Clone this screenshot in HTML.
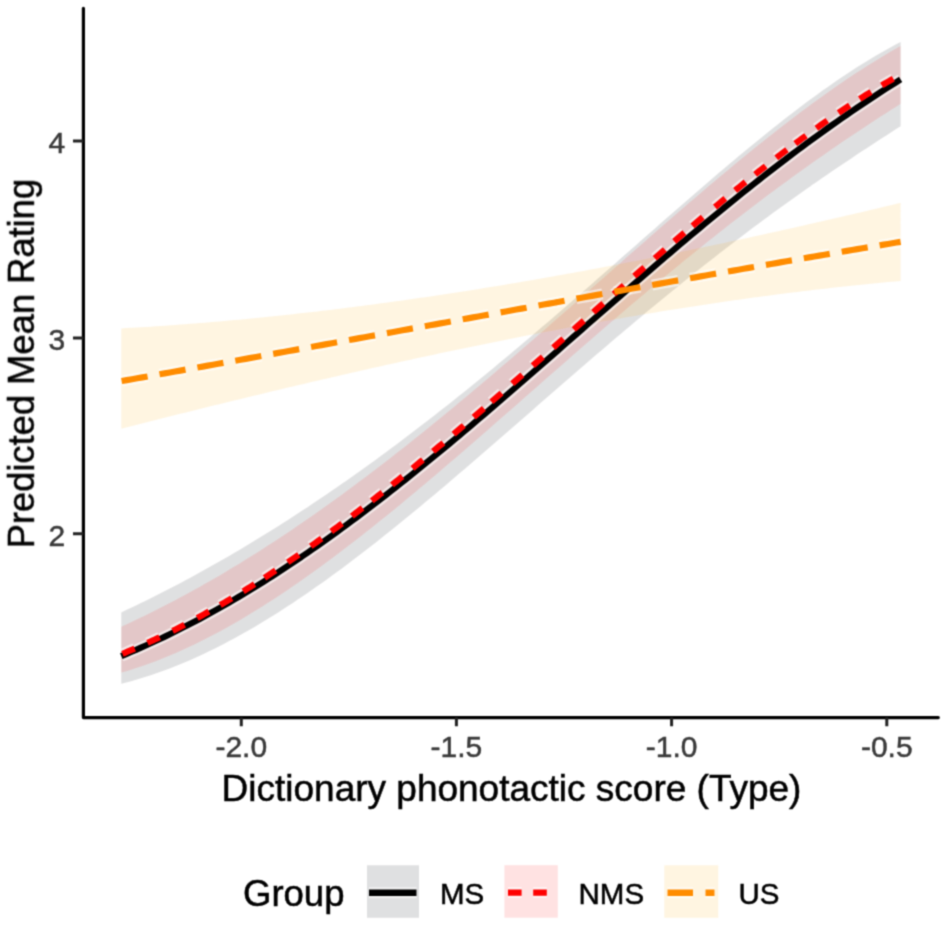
<!DOCTYPE html>
<html><head><meta charset="utf-8">
<style>
html,body{margin:0;padding:0;background:#fff;width:944px;height:926px;overflow:hidden}
svg{display:block}
text{font-family:"Liberation Sans",sans-serif;stroke:#000;stroke-width:0.5px}
.tk text{stroke:#3a3a3a}
</style></head>
<body>
<svg width="944" height="926" viewBox="0 0 944 926">
<defs><filter id="bl" color-interpolation-filters="sRGB" x="0" y="0" width="100%" height="100%" filterUnits="userSpaceOnUse"><feConvolveMatrix order="3" kernelMatrix="0.04 0.12 0.04 0.12 0.36 0.12 0.04 0.12 0.04" edgeMode="none" preserveAlpha="false"/></filter></defs>
<rect width="944" height="926" fill="#fff"/>
<g filter="url(#bl)">
<!-- ribbons -->
<path d="M121.30,612.41 L126.20,610.12 L131.10,607.80 L136.00,605.45 L140.91,603.07 L145.81,600.67 L150.71,598.25 L155.61,595.79 L160.51,593.31 L165.41,590.81 L170.31,588.27 L175.21,585.72 L180.12,583.13 L185.02,580.53 L189.92,577.89 L194.82,575.23 L199.72,572.55 L204.62,569.83 L209.52,567.10 L214.42,564.34 L219.33,561.55 L224.23,558.74 L229.13,555.90 L234.03,553.04 L238.93,550.15 L243.83,547.24 L248.73,544.30 L253.63,541.34 L258.54,538.35 L263.44,535.34 L268.34,532.30 L273.24,529.24 L278.14,526.15 L283.04,523.04 L287.94,519.91 L292.84,516.75 L297.75,513.57 L302.65,510.36 L307.55,507.13 L312.45,503.87 L317.35,500.59 L322.25,497.29 L327.15,493.96 L332.05,490.61 L336.96,487.23 L341.86,483.83 L346.76,480.41 L351.66,476.96 L356.56,473.50 L361.46,470.00 L366.36,466.49 L371.26,462.95 L376.17,459.39 L381.07,455.81 L385.97,452.20 L390.87,448.57 L395.77,444.92 L400.67,441.25 L405.57,437.56 L410.47,433.84 L415.38,430.11 L420.28,426.35 L425.18,422.57 L430.08,418.77 L434.98,414.96 L439.88,411.12 L444.78,407.26 L449.68,403.38 L454.59,399.48 L459.49,395.56 L464.39,391.63 L469.29,387.67 L474.19,383.70 L479.09,379.71 L483.99,375.70 L488.89,371.67 L493.80,367.63 L498.70,363.57 L503.60,359.49 L508.50,355.40 L513.40,351.30 L518.30,347.18 L523.20,343.04 L528.10,338.89 L533.01,334.73 L537.91,330.55 L542.81,326.36 L547.71,322.16 L552.61,317.95 L557.51,313.73 L562.41,309.49 L567.31,305.25 L572.22,301.00 L577.12,296.73 L582.02,292.46 L586.92,288.19 L591.82,283.90 L596.72,279.61 L601.62,275.31 L606.52,271.01 L611.43,266.71 L616.33,262.40 L621.23,258.09 L626.13,253.78 L631.03,249.46 L635.93,245.15 L640.83,240.83 L645.73,236.52 L650.64,232.21 L655.54,227.90 L660.44,223.60 L665.34,219.30 L670.24,215.00 L675.14,210.72 L680.04,206.44 L684.94,202.17 L689.85,197.91 L694.75,193.66 L699.65,189.42 L704.55,185.20 L709.45,180.99 L714.35,176.79 L719.25,172.61 L724.15,168.45 L729.06,164.30 L733.96,160.18 L738.86,156.08 L743.76,152.00 L748.66,147.94 L753.56,143.91 L758.46,139.90 L763.36,135.92 L768.27,131.98 L773.17,128.06 L778.07,124.17 L782.97,120.32 L787.87,116.50 L792.77,112.71 L797.67,108.97 L802.57,105.26 L807.48,101.60 L812.38,97.98 L817.28,94.40 L822.18,90.86 L827.08,87.38 L831.98,83.94 L836.88,80.56 L841.78,77.23 L846.69,73.95 L851.59,70.73 L856.49,67.57 L861.39,64.46 L866.29,61.42 L871.19,58.45 L876.09,55.54 L880.99,52.69 L885.90,49.92 L890.80,47.22 L895.70,44.59 L900.60,42.04 L900.60,126.20 L895.70,129.33 L890.80,132.48 L885.90,135.63 L880.99,138.80 L876.09,141.98 L871.19,145.18 L866.29,148.40 L861.39,151.62 L856.49,154.87 L851.59,158.13 L846.69,161.41 L841.78,164.70 L836.88,168.02 L831.98,171.35 L827.08,174.70 L822.18,178.07 L817.28,181.46 L812.38,184.87 L807.48,188.29 L802.57,191.74 L797.67,195.21 L792.77,198.70 L787.87,202.21 L782.97,205.74 L778.07,209.29 L773.17,212.87 L768.27,216.46 L763.36,220.08 L758.46,223.71 L753.56,227.37 L748.66,231.05 L743.76,234.75 L738.86,238.47 L733.96,242.21 L729.06,245.97 L724.15,249.75 L719.25,253.56 L714.35,257.38 L709.45,261.22 L704.55,265.08 L699.65,268.97 L694.75,272.87 L689.85,276.79 L684.94,280.73 L680.04,284.68 L675.14,288.66 L670.24,292.65 L665.34,296.66 L660.44,300.69 L655.54,304.73 L650.64,308.79 L645.73,312.87 L640.83,316.96 L635.93,321.06 L631.03,325.18 L626.13,329.31 L621.23,333.46 L616.33,337.62 L611.43,341.79 L606.52,345.97 L601.62,350.16 L596.72,354.37 L591.82,358.58 L586.92,362.80 L582.02,367.03 L577.12,371.27 L572.22,375.51 L567.31,379.76 L562.41,384.02 L557.51,388.28 L552.61,392.54 L547.71,396.81 L542.81,401.09 L537.91,405.36 L533.01,409.63 L528.10,413.91 L523.20,418.18 L518.30,422.46 L513.40,426.73 L508.50,431.00 L503.60,435.27 L498.70,439.53 L493.80,443.78 L488.89,448.04 L483.99,452.28 L479.09,456.52 L474.19,460.74 L469.29,464.96 L464.39,469.17 L459.49,473.37 L454.59,477.55 L449.68,481.72 L444.78,485.88 L439.88,490.02 L434.98,494.15 L430.08,498.26 L425.18,502.36 L420.28,506.43 L415.38,510.49 L410.47,514.52 L405.57,518.54 L400.67,522.53 L395.77,526.50 L390.87,530.45 L385.97,534.37 L381.07,538.26 L376.17,542.13 L371.26,545.97 L366.36,549.78 L361.46,553.56 L356.56,557.32 L351.66,561.04 L346.76,564.72 L341.86,568.38 L336.96,572.00 L332.05,575.58 L327.15,579.13 L322.25,582.64 L317.35,586.12 L312.45,589.55 L307.55,592.95 L302.65,596.30 L297.75,599.61 L292.84,602.88 L287.94,606.11 L283.04,609.29 L278.14,612.43 L273.24,615.52 L268.34,618.56 L263.44,621.56 L258.54,624.50 L253.63,627.40 L248.73,630.24 L243.83,633.04 L238.93,635.78 L234.03,638.47 L229.13,641.10 L224.23,643.68 L219.33,646.21 L214.42,648.67 L209.52,651.08 L204.62,653.43 L199.72,655.73 L194.82,657.96 L189.92,660.13 L185.02,662.24 L180.12,664.29 L175.21,666.28 L170.31,668.20 L165.41,670.06 L160.51,671.85 L155.61,673.58 L150.71,675.24 L145.81,676.83 L140.91,678.36 L136.00,679.81 L131.10,681.20 L126.20,682.52 L121.30,683.77 Z" fill="#000a0f" fill-opacity="0.125"/>
<path d="M121.30,626.67 L126.20,624.44 L131.10,622.17 L136.00,619.87 L140.91,617.53 L145.81,615.16 L150.71,612.75 L155.61,610.31 L160.51,607.84 L165.41,605.33 L170.31,602.80 L175.21,600.23 L180.12,597.62 L185.02,594.98 L189.92,592.32 L194.82,589.61 L199.72,586.88 L204.62,584.12 L209.52,581.32 L214.42,578.49 L219.33,575.63 L224.23,572.74 L229.13,569.82 L234.03,566.87 L238.93,563.89 L243.83,560.87 L248.73,557.83 L253.63,554.76 L258.54,551.66 L263.44,548.53 L268.34,545.37 L273.24,542.18 L278.14,538.96 L283.04,535.71 L287.94,532.44 L292.84,529.14 L297.75,525.81 L302.65,522.45 L307.55,519.06 L312.45,515.65 L317.35,512.21 L322.25,508.75 L327.15,505.26 L332.05,501.74 L336.96,498.20 L341.86,494.64 L346.76,491.04 L351.66,487.43 L356.56,483.79 L361.46,480.12 L366.36,476.44 L371.26,472.72 L376.17,468.99 L381.07,465.23 L385.97,461.46 L390.87,457.66 L395.77,453.83 L400.67,449.99 L405.57,446.13 L410.47,442.24 L415.38,438.34 L420.28,434.41 L425.18,430.47 L430.08,426.51 L434.98,422.52 L439.88,418.53 L444.78,414.51 L449.68,410.47 L454.59,406.42 L459.49,402.36 L464.39,398.27 L469.29,394.17 L474.19,390.06 L479.09,385.93 L483.99,381.79 L488.89,377.63 L493.80,373.46 L498.70,369.28 L503.60,365.09 L508.50,360.88 L513.40,356.67 L518.30,352.44 L523.20,348.20 L528.10,343.95 L533.01,339.70 L537.91,335.43 L542.81,331.16 L547.71,326.88 L552.61,322.59 L557.51,318.30 L562.41,314.00 L567.31,309.69 L572.22,305.38 L577.12,301.07 L582.02,296.76 L586.92,292.44 L591.82,288.12 L596.72,283.79 L601.62,279.47 L606.52,275.15 L611.43,270.83 L616.33,266.51 L621.23,262.19 L626.13,257.87 L631.03,253.56 L635.93,249.25 L640.83,244.94 L645.73,240.65 L650.64,236.35 L655.54,232.07 L660.44,227.79 L665.34,223.52 L670.24,219.26 L675.14,215.01 L680.04,210.77 L684.94,206.54 L689.85,202.33 L694.75,198.13 L699.65,193.94 L704.55,189.77 L709.45,185.61 L714.35,181.47 L719.25,177.34 L724.15,173.24 L729.06,169.15 L733.96,165.09 L738.86,161.04 L743.76,157.02 L748.66,153.02 L753.56,149.05 L758.46,145.10 L763.36,141.17 L768.27,137.27 L773.17,133.40 L778.07,129.56 L782.97,125.75 L787.87,121.97 L792.77,118.22 L797.67,114.50 L802.57,110.82 L807.48,107.17 L812.38,103.56 L817.28,99.98 L822.18,96.45 L827.08,92.95 L831.98,89.49 L836.88,86.08 L841.78,82.70 L846.69,79.37 L851.59,76.09 L856.49,72.85 L861.39,69.66 L866.29,66.51 L871.19,63.42 L876.09,60.38 L880.99,57.39 L885.90,54.45 L890.80,51.57 L895.70,48.74 L900.60,45.97 L900.60,103.80 L895.70,106.91 L890.80,110.03 L885.90,113.18 L880.99,116.34 L876.09,119.52 L871.19,122.72 L866.29,125.95 L861.39,129.19 L856.49,132.45 L851.59,135.74 L846.69,139.04 L841.78,142.37 L836.88,145.72 L831.98,149.08 L827.08,152.48 L822.18,155.89 L817.28,159.32 L812.38,162.78 L807.48,166.26 L802.57,169.76 L797.67,173.28 L792.77,176.82 L787.87,180.39 L782.97,183.98 L778.07,187.59 L773.17,191.22 L768.27,194.87 L763.36,198.55 L758.46,202.24 L753.56,205.96 L748.66,209.70 L743.76,213.46 L738.86,217.24 L733.96,221.04 L729.06,224.86 L724.15,228.70 L719.25,232.56 L714.35,236.44 L709.45,240.34 L704.55,244.26 L699.65,248.20 L694.75,252.16 L689.85,256.13 L684.94,260.12 L680.04,264.13 L675.14,268.16 L670.24,272.20 L665.34,276.26 L660.44,280.34 L655.54,284.43 L650.64,288.53 L645.73,292.65 L640.83,296.79 L635.93,300.93 L631.03,305.09 L626.13,309.27 L621.23,313.45 L616.33,317.65 L611.43,321.86 L606.52,326.08 L601.62,330.30 L596.72,334.54 L591.82,338.79 L586.92,343.04 L582.02,347.31 L577.12,351.58 L572.22,355.85 L567.31,360.13 L562.41,364.42 L557.51,368.71 L552.61,373.01 L547.71,377.31 L542.81,381.61 L537.91,385.91 L533.01,390.21 L528.10,394.52 L523.20,398.82 L518.30,403.13 L513.40,407.43 L508.50,411.73 L503.60,416.02 L498.70,420.31 L493.80,424.60 L488.89,428.88 L483.99,433.16 L479.09,437.43 L474.19,441.69 L469.29,445.94 L464.39,450.19 L459.49,454.42 L454.59,458.64 L449.68,462.85 L444.78,467.05 L439.88,471.24 L434.98,475.41 L430.08,479.56 L425.18,483.70 L420.28,487.83 L415.38,491.93 L410.47,496.02 L405.57,500.09 L400.67,504.14 L395.77,508.16 L390.87,512.17 L385.97,516.15 L381.07,520.11 L376.17,524.04 L371.26,527.95 L366.36,531.84 L361.46,535.69 L356.56,539.52 L351.66,543.32 L346.76,547.09 L341.86,550.83 L336.96,554.53 L332.05,558.21 L327.15,561.85 L322.25,565.46 L317.35,569.03 L312.45,572.56 L307.55,576.06 L302.65,579.52 L297.75,582.94 L292.84,586.32 L287.94,589.66 L283.04,592.96 L278.14,596.22 L273.24,599.43 L268.34,602.60 L263.44,605.73 L258.54,608.80 L253.63,611.83 L248.73,614.82 L243.83,617.75 L238.93,620.63 L234.03,623.47 L229.13,626.25 L224.23,628.98 L219.33,631.65 L214.42,634.27 L209.52,636.84 L204.62,639.35 L199.72,641.80 L194.82,644.20 L189.92,646.53 L185.02,648.81 L180.12,651.02 L175.21,653.18 L170.31,655.27 L165.41,657.30 L160.51,659.26 L155.61,661.16 L150.71,662.99 L145.81,664.76 L140.91,666.46 L136.00,668.09 L131.10,669.65 L126.20,671.14 L121.30,672.56 Z" fill="#f00" fill-opacity="0.11"/>
<path d="M121.30,328.39 L126.20,328.12 L131.10,327.83 L136.00,327.54 L140.91,327.25 L145.81,326.94 L150.71,326.63 L155.61,326.30 L160.51,325.97 L165.41,325.64 L170.31,325.29 L175.21,324.94 L180.12,324.57 L185.02,324.20 L189.92,323.83 L194.82,323.44 L199.72,323.05 L204.62,322.65 L209.52,322.24 L214.42,321.82 L219.33,321.40 L224.23,320.97 L229.13,320.53 L234.03,320.08 L238.93,319.63 L243.83,319.17 L248.73,318.70 L253.63,318.22 L258.54,317.74 L263.44,317.25 L268.34,316.75 L273.24,316.25 L278.14,315.73 L283.04,315.21 L287.94,314.69 L292.84,314.15 L297.75,313.61 L302.65,313.06 L307.55,312.51 L312.45,311.95 L317.35,311.38 L322.25,310.80 L327.15,310.22 L332.05,309.63 L336.96,309.03 L341.86,308.43 L346.76,307.82 L351.66,307.20 L356.56,306.58 L361.46,305.94 L366.36,305.31 L371.26,304.66 L376.17,304.01 L381.07,303.36 L385.97,302.69 L390.87,302.02 L395.77,301.34 L400.67,300.66 L405.57,299.97 L410.47,299.28 L415.38,298.57 L420.28,297.86 L425.18,297.15 L430.08,296.43 L434.98,295.70 L439.88,294.97 L444.78,294.23 L449.68,293.48 L454.59,292.73 L459.49,291.97 L464.39,291.21 L469.29,290.44 L474.19,289.66 L479.09,288.88 L483.99,288.09 L488.89,287.30 L493.80,286.50 L498.70,285.69 L503.60,284.88 L508.50,284.06 L513.40,283.24 L518.30,282.41 L523.20,281.58 L528.10,280.74 L533.01,279.89 L537.91,279.04 L542.81,278.18 L547.71,277.32 L552.61,276.46 L557.51,275.58 L562.41,274.70 L567.31,273.82 L572.22,272.93 L577.12,272.04 L582.02,271.14 L586.92,270.23 L591.82,269.32 L596.72,268.41 L601.62,267.49 L606.52,266.56 L611.43,265.63 L616.33,264.69 L621.23,263.75 L626.13,262.81 L631.03,261.86 L635.93,260.90 L640.83,259.94 L645.73,258.97 L650.64,258.00 L655.54,257.03 L660.44,256.05 L665.34,255.06 L670.24,254.08 L675.14,253.08 L680.04,252.08 L684.94,251.08 L689.85,250.07 L694.75,249.06 L699.65,248.04 L704.55,247.02 L709.45,245.99 L714.35,244.96 L719.25,243.93 L724.15,242.89 L729.06,241.85 L733.96,240.80 L738.86,239.75 L743.76,238.69 L748.66,237.63 L753.56,236.56 L758.46,235.50 L763.36,234.42 L768.27,233.35 L773.17,232.26 L778.07,231.18 L782.97,230.09 L787.87,229.00 L792.77,227.90 L797.67,226.80 L802.57,225.69 L807.48,224.59 L812.38,223.47 L817.28,222.36 L822.18,221.24 L827.08,220.11 L831.98,218.99 L836.88,217.86 L841.78,216.72 L846.69,215.58 L851.59,214.44 L856.49,213.30 L861.39,212.15 L866.29,210.99 L871.19,209.84 L876.09,208.68 L880.99,207.52 L885.90,206.35 L890.80,205.18 L895.70,204.01 L900.60,202.84 L900.60,280.95 L895.70,281.39 L890.80,281.84 L885.90,282.30 L880.99,282.76 L876.09,283.23 L871.19,283.71 L866.29,284.20 L861.39,284.70 L856.49,285.21 L851.59,285.72 L846.69,286.24 L841.78,286.77 L836.88,287.31 L831.98,287.85 L827.08,288.41 L822.18,288.97 L817.28,289.54 L812.38,290.11 L807.48,290.70 L802.57,291.29 L797.67,291.89 L792.77,292.49 L787.87,293.11 L782.97,293.73 L778.07,294.36 L773.17,295.00 L768.27,295.64 L763.36,296.29 L758.46,296.95 L753.56,297.62 L748.66,298.29 L743.76,298.97 L738.86,299.66 L733.96,300.35 L729.06,301.06 L724.15,301.76 L719.25,302.48 L714.35,303.20 L709.45,303.93 L704.55,304.67 L699.65,305.41 L694.75,306.16 L689.85,306.92 L684.94,307.68 L680.04,308.45 L675.14,309.22 L670.24,310.01 L665.34,310.79 L660.44,311.59 L655.54,312.39 L650.64,313.20 L645.73,314.01 L640.83,314.83 L635.93,315.66 L631.03,316.49 L626.13,317.33 L621.23,318.18 L616.33,319.03 L611.43,319.89 L606.52,320.75 L601.62,321.62 L596.72,322.49 L591.82,323.38 L586.92,324.26 L582.02,325.15 L577.12,326.05 L572.22,326.96 L567.31,327.86 L562.41,328.78 L557.51,329.70 L552.61,330.63 L547.71,331.56 L542.81,332.49 L537.91,333.44 L533.01,334.38 L528.10,335.34 L523.20,336.29 L518.30,337.26 L513.40,338.23 L508.50,339.20 L503.60,340.18 L498.70,341.16 L493.80,342.15 L488.89,343.14 L483.99,344.14 L479.09,345.15 L474.19,346.15 L469.29,347.17 L464.39,348.18 L459.49,349.21 L454.59,350.23 L449.68,351.27 L444.78,352.30 L439.88,353.34 L434.98,354.39 L430.08,355.44 L425.18,356.49 L420.28,357.55 L415.38,358.61 L410.47,359.68 L405.57,360.75 L400.67,361.82 L395.77,362.90 L390.87,363.99 L385.97,365.08 L381.07,366.17 L376.17,367.26 L371.26,368.36 L366.36,369.47 L361.46,370.57 L356.56,371.68 L351.66,372.80 L346.76,373.92 L341.86,375.04 L336.96,376.17 L332.05,377.29 L327.15,378.43 L322.25,379.56 L317.35,380.70 L312.45,381.85 L307.55,382.99 L302.65,384.14 L297.75,385.30 L292.84,386.45 L287.94,387.61 L283.04,388.78 L278.14,389.94 L273.24,391.11 L268.34,392.29 L263.44,393.46 L258.54,394.64 L253.63,395.82 L248.73,397.00 L243.83,398.19 L238.93,399.38 L234.03,400.57 L229.13,401.77 L224.23,402.97 L219.33,404.17 L214.42,405.37 L209.52,406.58 L204.62,407.78 L199.72,408.99 L194.82,410.21 L189.92,411.42 L185.02,412.64 L180.12,413.86 L175.21,415.08 L170.31,416.31 L165.41,417.53 L160.51,418.76 L155.61,419.99 L150.71,421.22 L145.81,422.46 L140.91,423.70 L136.00,424.93 L131.10,426.17 L126.20,427.42 L121.30,428.66 Z" fill="#ffa800" fill-opacity="0.118"/>
<!-- halos -->
<g fill="none" stroke="#fff" stroke-opacity="0.55" stroke-width="11">
<path d="M121.30,656.14 L126.20,654.08 L131.10,652.00 L136.00,649.87 L140.91,647.71 L145.81,645.51 L150.71,643.28 L155.61,641.00 L160.51,638.70 L165.41,636.35 L170.31,633.97 L175.21,631.55 L180.12,629.09 L185.02,626.60 L189.92,624.07 L194.82,621.51 L199.72,618.90 L204.62,616.26 L209.52,613.59 L214.42,610.88 L219.33,608.13 L224.23,605.34 L229.13,602.52 L234.03,599.67 L238.93,596.78 L243.83,593.85 L248.73,590.89 L253.63,587.89 L258.54,584.86 L263.44,581.79 L268.34,578.69 L273.24,575.56 L278.14,572.39 L283.04,569.19 L287.94,565.96 L292.84,562.69 L297.75,559.39 L302.65,556.06 L307.55,552.70 L312.45,549.31 L317.35,545.88 L322.25,542.43 L327.15,538.95 L332.05,535.43 L336.96,531.89 L341.86,528.32 L346.76,524.72 L351.66,521.09 L356.56,517.44 L361.46,513.76 L366.36,510.05 L371.26,506.32 L376.17,502.56 L381.07,498.78 L385.97,494.97 L390.87,491.14 L395.77,487.28 L400.67,483.40 L405.57,479.50 L410.47,475.58 L415.38,471.64 L420.28,467.68 L425.18,463.69 L430.08,459.69 L434.98,455.67 L439.88,451.63 L444.78,447.57 L449.68,443.50 L454.59,439.41 L459.49,435.30 L464.39,431.18 L469.29,427.04 L474.19,422.89 L479.09,418.73 L483.99,414.55 L488.89,410.36 L493.80,406.16 L498.70,401.95 L503.60,397.73 L508.50,393.50 L513.40,389.26 L518.30,385.01 L523.20,380.76 L528.10,376.50 L533.01,372.23 L537.91,367.95 L542.81,363.67 L547.71,359.39 L552.61,355.10 L557.51,350.81 L562.41,346.52 L567.31,342.23 L572.22,337.93 L577.12,333.63 L582.02,329.34 L586.92,325.04 L591.82,320.75 L596.72,316.46 L601.62,312.17 L606.52,307.89 L611.43,303.61 L616.33,299.33 L621.23,295.06 L626.13,290.80 L631.03,286.54 L635.93,282.29 L640.83,278.05 L645.73,273.81 L650.64,269.59 L655.54,265.38 L660.44,261.17 L665.34,256.98 L670.24,252.80 L675.14,248.63 L680.04,244.47 L684.94,240.33 L689.85,236.21 L694.75,232.09 L699.65,228.00 L704.55,223.91 L709.45,219.85 L714.35,215.80 L719.25,211.77 L724.15,207.76 L729.06,203.77 L733.96,199.79 L738.86,195.84 L743.76,191.90 L748.66,187.99 L753.56,184.10 L758.46,180.23 L763.36,176.38 L768.27,172.56 L773.17,168.76 L778.07,164.98 L782.97,161.23 L787.87,157.50 L792.77,153.80 L797.67,150.12 L802.57,146.47 L807.48,142.85 L812.38,139.25 L817.28,135.68 L822.18,132.14 L827.08,128.62 L831.98,125.13 L836.88,121.68 L841.78,118.25 L846.69,114.85 L851.59,111.48 L856.49,108.14 L861.39,104.83 L866.29,101.56 L871.19,98.31 L876.09,95.09 L880.99,91.91 L885.90,88.76 L890.80,85.64 L895.70,82.55 L900.60,79.49"/>
<path d="M122.41,653.78 L124.89,652.76 L127.36,651.73 L129.83,650.69 L132.30,649.65 L134.76,648.59 M147.52,642.92 L149.95,641.80 L152.39,640.67 L154.81,639.54 L157.24,638.40 L159.66,637.24 M172.62,630.88 L175.02,629.68 L177.41,628.46 L179.79,627.24 L182.17,626.01 L184.55,624.77 M197.23,618.01 L199.58,616.72 L201.93,615.43 L204.27,614.13 L206.61,612.82 L208.95,611.51 M220.22,605.05 L222.54,603.70 L224.85,602.34 L227.15,600.98 L229.46,599.61 L231.76,598.23 M243.21,591.26 L245.49,589.84 L247.76,588.43 L250.04,587.01 L252.30,585.58 L254.57,584.14 M264.49,577.78 L266.74,576.32 L268.98,574.85 L271.22,573.38 L273.46,571.90 L275.69,570.42 M287.78,562.29 L290.00,560.77 L292.21,559.26 L294.42,557.74 L296.62,556.22 L298.82,554.69 M310.75,546.31 L312.93,544.75 L315.11,543.19 L317.29,541.63 L319.46,540.07 L321.64,538.50 M331.31,531.44 L333.47,529.85 L335.62,528.26 L337.78,526.66 L339.93,525.06 L342.07,523.46 M351.87,516.09 L354.00,514.46 L356.13,512.84 L358.26,511.21 L360.39,509.58 L362.52,507.95 M371.82,500.75 L373.93,499.10 L376.05,497.45 L378.15,495.80 L380.26,494.14 L382.37,492.48 M391.97,484.87 L394.06,483.19 L396.15,481.52 L398.24,479.84 L400.33,478.16 L402.42,476.48 M412.51,468.29 L414.59,466.60 L416.66,464.90 L418.74,463.20 L420.81,461.50 L422.88,459.80 M433.05,451.38 L435.11,449.66 L437.17,447.95 L439.23,446.23 L441.28,444.51 L443.34,442.79 M453.59,434.17 L455.63,432.43 L457.68,430.70 L459.72,428.97 L461.76,427.23 L463.81,425.50 M473.72,417.04 L475.75,415.29 L477.78,413.55 L479.82,411.80 L481.85,410.05 L483.88,408.30 M491.44,401.78 L493.46,400.02 L495.49,398.27 L497.51,396.51 L499.54,394.75 L501.56,392.99 M512.26,383.67 L514.27,381.91 L516.29,380.14 L518.31,378.38 L520.32,376.61 L522.34,374.85 M532.77,365.69 L534.78,363.91 L536.79,362.14 L538.81,360.37 L540.82,358.60 L542.83,356.83 M553.28,347.60 L555.29,345.83 L557.30,344.05 L559.30,342.28 L561.31,340.50 L563.32,338.73 M573.78,329.47 L575.79,327.70 L577.80,325.92 L579.80,324.14 L581.81,322.37 L583.82,320.59 M593.28,312.22 L595.29,310.44 L597.30,308.67 L599.30,306.89 L601.31,305.12 L603.32,303.35 M613.77,294.12 L615.78,292.35 L617.79,290.58 L619.81,288.81 L621.82,287.04 L623.83,285.27 M634.26,276.12 L636.27,274.35 L638.29,272.59 L640.31,270.82 L642.33,269.06 L644.35,267.30 M654.74,258.25 L656.76,256.49 L658.79,254.74 L660.81,252.98 L662.84,251.23 L664.87,249.48 M674.21,241.43 L676.25,239.68 L678.28,237.94 L680.32,236.20 L682.36,234.46 L684.39,232.72 M692.48,225.84 L694.53,224.11 L696.58,222.38 L698.62,220.65 L700.67,218.93 L702.73,217.20 M714.94,207.00 L717.00,205.29 L719.07,203.58 L721.13,201.87 L723.20,200.17 L725.27,198.47 M735.09,190.44 L737.17,188.75 L739.26,187.07 L741.34,185.38 L743.43,183.70 L745.52,182.02 M755.14,174.36 L757.24,172.69 L759.35,171.03 L761.45,169.38 L763.56,167.73 L765.68,166.08 M776.28,157.88 L778.40,156.25 L780.53,154.62 L782.67,153.00 L784.80,151.38 L786.94,149.77 M795.21,143.58 L797.36,141.99 L799.52,140.40 L801.68,138.81 L803.84,137.23 L806.01,135.65 M816.33,128.23 L818.51,126.68 L820.70,125.14 L822.90,123.60 L825.09,122.06 L827.29,120.53 M838.53,112.84 L840.76,111.34 L842.98,109.85 L845.22,108.37 L847.45,106.89 L849.69,105.42 M859.63,98.99 L861.90,97.56 L864.16,96.13 L866.44,94.70 L868.71,93.29 L870.99,91.88 M881.72,85.40 L884.03,84.04 L886.34,82.68 L888.66,81.34 L890.98,80.00 L893.31,78.67"/>
<path d="M121.60,381.05 L126.80,380.13 L132.00,379.21 L137.20,378.29 L142.40,377.36 L147.60,376.44 M159.50,374.32 L164.70,373.39 L169.90,372.46 L175.10,371.53 L180.30,370.60 L185.50,369.67 M197.40,367.53 L202.60,366.60 L207.80,365.66 L213.00,364.73 L218.20,363.79 L223.40,362.86 M235.30,360.71 L240.50,359.77 L245.70,358.83 L250.90,357.89 L256.10,356.95 L261.30,356.01 M273.20,353.85 L278.40,352.91 L283.60,351.97 L288.80,351.02 L294.00,350.08 L299.20,349.13 M311.10,346.97 L316.30,346.02 L321.50,345.08 L326.70,344.13 L331.90,343.18 L337.10,342.24 M349.00,340.07 L354.20,339.12 L359.40,338.17 L364.60,337.22 L369.80,336.27 L375.00,335.33 M386.90,333.15 L392.10,332.20 L397.30,331.26 L402.50,330.31 L407.70,329.36 L412.90,328.41 M424.80,326.23 L430.00,325.29 L435.20,324.34 L440.40,323.39 L445.60,322.44 L450.80,321.49 M462.70,319.32 L467.90,318.37 L473.10,317.42 L478.30,316.47 L483.50,315.53 L488.70,314.58 M500.60,312.41 L505.80,311.46 L511.00,310.52 L516.20,309.57 L521.40,308.62 L526.60,307.68 M538.50,305.52 L543.70,304.57 L548.90,303.63 L554.10,302.69 L559.30,301.74 L564.50,300.80 M576.40,298.65 L581.60,297.71 L586.80,296.77 L592.00,295.83 L597.20,294.89 L602.40,293.95 M614.30,291.81 L619.50,290.87 L624.70,289.94 L629.90,289.00 L635.10,288.07 L640.30,287.14 M652.20,285.01 L657.40,284.08 L662.60,283.15 L667.80,282.22 L673.00,281.29 L678.20,280.37 M690.10,278.25 L695.30,277.33 L700.50,276.40 L705.70,275.48 L710.90,274.56 L716.10,273.64 M728.00,271.54 L733.20,270.62 L738.40,269.71 L743.60,268.80 L748.80,267.88 L754.00,266.97 M765.90,264.89 L771.10,263.98 L776.30,263.08 L781.50,262.17 L786.70,261.27 L791.90,260.37 M803.80,258.31 L809.00,257.41 L814.20,256.51 L819.40,255.62 L824.60,254.72 L829.80,253.83 M841.70,251.79 L846.90,250.90 L852.10,250.02 L857.30,249.13 L862.50,248.25 L867.70,247.37 M879.60,245.36 L883.80,244.65 L888.00,243.94 L892.20,243.24 L896.40,242.53 L900.60,241.83"/>
</g>
<!-- lines -->
<path d="M121.30,656.14 L126.20,654.08 L131.10,652.00 L136.00,649.87 L140.91,647.71 L145.81,645.51 L150.71,643.28 L155.61,641.00 L160.51,638.70 L165.41,636.35 L170.31,633.97 L175.21,631.55 L180.12,629.09 L185.02,626.60 L189.92,624.07 L194.82,621.51 L199.72,618.90 L204.62,616.26 L209.52,613.59 L214.42,610.88 L219.33,608.13 L224.23,605.34 L229.13,602.52 L234.03,599.67 L238.93,596.78 L243.83,593.85 L248.73,590.89 L253.63,587.89 L258.54,584.86 L263.44,581.79 L268.34,578.69 L273.24,575.56 L278.14,572.39 L283.04,569.19 L287.94,565.96 L292.84,562.69 L297.75,559.39 L302.65,556.06 L307.55,552.70 L312.45,549.31 L317.35,545.88 L322.25,542.43 L327.15,538.95 L332.05,535.43 L336.96,531.89 L341.86,528.32 L346.76,524.72 L351.66,521.09 L356.56,517.44 L361.46,513.76 L366.36,510.05 L371.26,506.32 L376.17,502.56 L381.07,498.78 L385.97,494.97 L390.87,491.14 L395.77,487.28 L400.67,483.40 L405.57,479.50 L410.47,475.58 L415.38,471.64 L420.28,467.68 L425.18,463.69 L430.08,459.69 L434.98,455.67 L439.88,451.63 L444.78,447.57 L449.68,443.50 L454.59,439.41 L459.49,435.30 L464.39,431.18 L469.29,427.04 L474.19,422.89 L479.09,418.73 L483.99,414.55 L488.89,410.36 L493.80,406.16 L498.70,401.95 L503.60,397.73 L508.50,393.50 L513.40,389.26 L518.30,385.01 L523.20,380.76 L528.10,376.50 L533.01,372.23 L537.91,367.95 L542.81,363.67 L547.71,359.39 L552.61,355.10 L557.51,350.81 L562.41,346.52 L567.31,342.23 L572.22,337.93 L577.12,333.63 L582.02,329.34 L586.92,325.04 L591.82,320.75 L596.72,316.46 L601.62,312.17 L606.52,307.89 L611.43,303.61 L616.33,299.33 L621.23,295.06 L626.13,290.80 L631.03,286.54 L635.93,282.29 L640.83,278.05 L645.73,273.81 L650.64,269.59 L655.54,265.38 L660.44,261.17 L665.34,256.98 L670.24,252.80 L675.14,248.63 L680.04,244.47 L684.94,240.33 L689.85,236.21 L694.75,232.09 L699.65,228.00 L704.55,223.91 L709.45,219.85 L714.35,215.80 L719.25,211.77 L724.15,207.76 L729.06,203.77 L733.96,199.79 L738.86,195.84 L743.76,191.90 L748.66,187.99 L753.56,184.10 L758.46,180.23 L763.36,176.38 L768.27,172.56 L773.17,168.76 L778.07,164.98 L782.97,161.23 L787.87,157.50 L792.77,153.80 L797.67,150.12 L802.57,146.47 L807.48,142.85 L812.38,139.25 L817.28,135.68 L822.18,132.14 L827.08,128.62 L831.98,125.13 L836.88,121.68 L841.78,118.25 L846.69,114.85 L851.59,111.48 L856.49,108.14 L861.39,104.83 L866.29,101.56 L871.19,98.31 L876.09,95.09 L880.99,91.91 L885.90,88.76 L890.80,85.64 L895.70,82.55 L900.60,79.49" fill="none" stroke="#000" stroke-width="6.2"/>
<path d="M122.41,653.78 L124.89,652.76 L127.36,651.73 L129.83,650.69 L132.30,649.65 L134.76,648.59 M147.52,642.92 L149.95,641.80 L152.39,640.67 L154.81,639.54 L157.24,638.40 L159.66,637.24 M172.62,630.88 L175.02,629.68 L177.41,628.46 L179.79,627.24 L182.17,626.01 L184.55,624.77 M197.23,618.01 L199.58,616.72 L201.93,615.43 L204.27,614.13 L206.61,612.82 L208.95,611.51 M220.22,605.05 L222.54,603.70 L224.85,602.34 L227.15,600.98 L229.46,599.61 L231.76,598.23 M243.21,591.26 L245.49,589.84 L247.76,588.43 L250.04,587.01 L252.30,585.58 L254.57,584.14 M264.49,577.78 L266.74,576.32 L268.98,574.85 L271.22,573.38 L273.46,571.90 L275.69,570.42 M287.78,562.29 L290.00,560.77 L292.21,559.26 L294.42,557.74 L296.62,556.22 L298.82,554.69 M310.75,546.31 L312.93,544.75 L315.11,543.19 L317.29,541.63 L319.46,540.07 L321.64,538.50 M331.31,531.44 L333.47,529.85 L335.62,528.26 L337.78,526.66 L339.93,525.06 L342.07,523.46 M351.87,516.09 L354.00,514.46 L356.13,512.84 L358.26,511.21 L360.39,509.58 L362.52,507.95 M371.82,500.75 L373.93,499.10 L376.05,497.45 L378.15,495.80 L380.26,494.14 L382.37,492.48 M391.97,484.87 L394.06,483.19 L396.15,481.52 L398.24,479.84 L400.33,478.16 L402.42,476.48 M412.51,468.29 L414.59,466.60 L416.66,464.90 L418.74,463.20 L420.81,461.50 L422.88,459.80 M433.05,451.38 L435.11,449.66 L437.17,447.95 L439.23,446.23 L441.28,444.51 L443.34,442.79 M453.59,434.17 L455.63,432.43 L457.68,430.70 L459.72,428.97 L461.76,427.23 L463.81,425.50 M473.72,417.04 L475.75,415.29 L477.78,413.55 L479.82,411.80 L481.85,410.05 L483.88,408.30 M491.44,401.78 L493.46,400.02 L495.49,398.27 L497.51,396.51 L499.54,394.75 L501.56,392.99 M512.26,383.67 L514.27,381.91 L516.29,380.14 L518.31,378.38 L520.32,376.61 L522.34,374.85 M532.77,365.69 L534.78,363.91 L536.79,362.14 L538.81,360.37 L540.82,358.60 L542.83,356.83 M553.28,347.60 L555.29,345.83 L557.30,344.05 L559.30,342.28 L561.31,340.50 L563.32,338.73 M573.78,329.47 L575.79,327.70 L577.80,325.92 L579.80,324.14 L581.81,322.37 L583.82,320.59 M593.28,312.22 L595.29,310.44 L597.30,308.67 L599.30,306.89 L601.31,305.12 L603.32,303.35 M613.77,294.12 L615.78,292.35 L617.79,290.58 L619.81,288.81 L621.82,287.04 L623.83,285.27 M634.26,276.12 L636.27,274.35 L638.29,272.59 L640.31,270.82 L642.33,269.06 L644.35,267.30 M654.74,258.25 L656.76,256.49 L658.79,254.74 L660.81,252.98 L662.84,251.23 L664.87,249.48 M674.21,241.43 L676.25,239.68 L678.28,237.94 L680.32,236.20 L682.36,234.46 L684.39,232.72 M692.48,225.84 L694.53,224.11 L696.58,222.38 L698.62,220.65 L700.67,218.93 L702.73,217.20 M714.94,207.00 L717.00,205.29 L719.07,203.58 L721.13,201.87 L723.20,200.17 L725.27,198.47 M735.09,190.44 L737.17,188.75 L739.26,187.07 L741.34,185.38 L743.43,183.70 L745.52,182.02 M755.14,174.36 L757.24,172.69 L759.35,171.03 L761.45,169.38 L763.56,167.73 L765.68,166.08 M776.28,157.88 L778.40,156.25 L780.53,154.62 L782.67,153.00 L784.80,151.38 L786.94,149.77 M795.21,143.58 L797.36,141.99 L799.52,140.40 L801.68,138.81 L803.84,137.23 L806.01,135.65 M816.33,128.23 L818.51,126.68 L820.70,125.14 L822.90,123.60 L825.09,122.06 L827.29,120.53 M838.53,112.84 L840.76,111.34 L842.98,109.85 L845.22,108.37 L847.45,106.89 L849.69,105.42 M859.63,98.99 L861.90,97.56 L864.16,96.13 L866.44,94.70 L868.71,93.29 L870.99,91.88 M881.72,85.40 L884.03,84.04 L886.34,82.68 L888.66,81.34 L890.98,80.00 L893.31,78.67" fill="none" stroke="#f00" stroke-width="6.2"/>
<path d="M121.60,381.05 L126.80,380.13 L132.00,379.21 L137.20,378.29 L142.40,377.36 L147.60,376.44 M159.50,374.32 L164.70,373.39 L169.90,372.46 L175.10,371.53 L180.30,370.60 L185.50,369.67 M197.40,367.53 L202.60,366.60 L207.80,365.66 L213.00,364.73 L218.20,363.79 L223.40,362.86 M235.30,360.71 L240.50,359.77 L245.70,358.83 L250.90,357.89 L256.10,356.95 L261.30,356.01 M273.20,353.85 L278.40,352.91 L283.60,351.97 L288.80,351.02 L294.00,350.08 L299.20,349.13 M311.10,346.97 L316.30,346.02 L321.50,345.08 L326.70,344.13 L331.90,343.18 L337.10,342.24 M349.00,340.07 L354.20,339.12 L359.40,338.17 L364.60,337.22 L369.80,336.27 L375.00,335.33 M386.90,333.15 L392.10,332.20 L397.30,331.26 L402.50,330.31 L407.70,329.36 L412.90,328.41 M424.80,326.23 L430.00,325.29 L435.20,324.34 L440.40,323.39 L445.60,322.44 L450.80,321.49 M462.70,319.32 L467.90,318.37 L473.10,317.42 L478.30,316.47 L483.50,315.53 L488.70,314.58 M500.60,312.41 L505.80,311.46 L511.00,310.52 L516.20,309.57 L521.40,308.62 L526.60,307.68 M538.50,305.52 L543.70,304.57 L548.90,303.63 L554.10,302.69 L559.30,301.74 L564.50,300.80 M576.40,298.65 L581.60,297.71 L586.80,296.77 L592.00,295.83 L597.20,294.89 L602.40,293.95 M614.30,291.81 L619.50,290.87 L624.70,289.94 L629.90,289.00 L635.10,288.07 L640.30,287.14 M652.20,285.01 L657.40,284.08 L662.60,283.15 L667.80,282.22 L673.00,281.29 L678.20,280.37 M690.10,278.25 L695.30,277.33 L700.50,276.40 L705.70,275.48 L710.90,274.56 L716.10,273.64 M728.00,271.54 L733.20,270.62 L738.40,269.71 L743.60,268.80 L748.80,267.88 L754.00,266.97 M765.90,264.89 L771.10,263.98 L776.30,263.08 L781.50,262.17 L786.70,261.27 L791.90,260.37 M803.80,258.31 L809.00,257.41 L814.20,256.51 L819.40,255.62 L824.60,254.72 L829.80,253.83 M841.70,251.79 L846.90,250.90 L852.10,250.02 L857.30,249.13 L862.50,248.25 L867.70,247.37 M879.60,245.36 L883.80,244.65 L888.00,243.94 L892.20,243.24 L896.40,242.53 L900.60,241.83" fill="none" stroke="#ff8c00" stroke-width="6.2"/>
<!-- axes -->
<path d="M83.4,8.3 L83.4,717.6 L938.3,717.6" fill="none" stroke="#000" stroke-width="3.2" stroke-linecap="round" stroke-linejoin="round"/>
<g stroke="#222" stroke-width="3">
<path d="M73,141 H83.4 M73,338.1 H83.4 M73,533.7 H83.4"/>
<path d="M241.3,717.6 V726.3 M456.4,717.6 V726.3 M671.6,717.6 V726.3 M886.8,717.6 V726.3"/>
</g>
<g class="tk" fill="#3a3a3a" font-size="30">
<text x="65.3" y="152.6" text-anchor="end">4</text>
<text x="65.3" y="350" text-anchor="end">3</text>
<text x="65.3" y="545.6" text-anchor="end">2</text>
<text x="241.3" y="757.4" text-anchor="middle">-2.0</text>
<text x="456.4" y="757.4" text-anchor="middle">-1.5</text>
<text x="671.6" y="757.4" text-anchor="middle">-1.0</text>
<text x="886.8" y="757.4" text-anchor="middle">-0.5</text>
</g>
<text x="511.5" y="801" text-anchor="middle" font-size="37">Dictionary phonotactic score (Type)</text>
<text transform="translate(33.9,363.6) rotate(-90)" text-anchor="middle" font-size="36.35">Predicted Mean Rating</text>
<!-- legend -->
<text x="243" y="906" font-size="36.5">Group</text>
<rect x="367" y="865.3" width="52" height="52.5" fill="#000a0f" fill-opacity="0.125"/>
<path d="M369,892.8 H416.5" stroke="#fff" stroke-opacity="0.55" stroke-width="11"/>
<path d="M369,892.8 H416.5" stroke="#000" stroke-width="6.6"/>
<text x="440" y="904" font-size="29.5">MS</text>
<rect x="504.4" y="865.2" width="53.4" height="52.5" fill="#f00" fill-opacity="0.115"/>
<path d="M508,892.6 H547.2" stroke="#fff" stroke-opacity="0.55" stroke-width="11" stroke-dasharray="13.6 11.6"/>
<path d="M508,892.6 H547.2" stroke="#f00" stroke-width="6.4" stroke-dasharray="13.6 11.6"/>
<text x="578.5" y="904" font-size="29.5">NMS</text>
<rect x="664.3" y="865.3" width="54" height="52.5" fill="#ffa800" fill-opacity="0.118"/>
<path d="M667.5,892.7 H714.5" stroke="#fff" stroke-opacity="0.55" stroke-width="11" stroke-dasharray="25.5 12.5"/>
<path d="M667.5,892.7 H714.5" stroke="#ff8c00" stroke-width="6.4" stroke-dasharray="25.5 12.5"/>
<text x="738.5" y="904" font-size="29.5">US</text>
</g>
</svg>
</body></html>
